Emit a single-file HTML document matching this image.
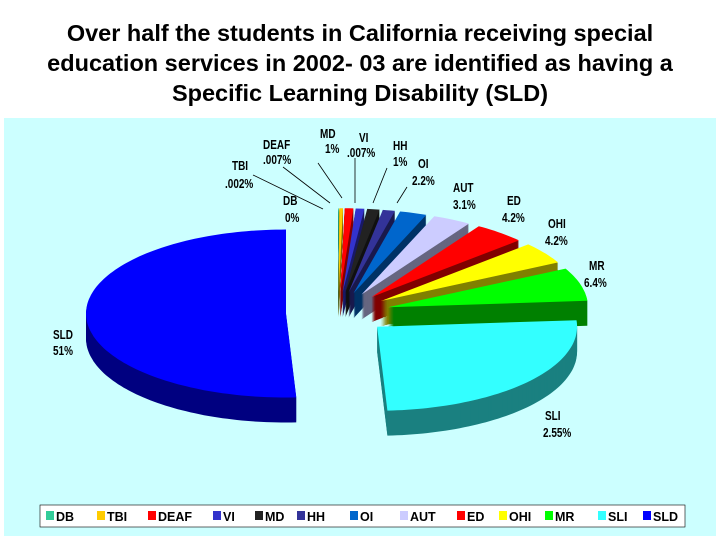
<!DOCTYPE html>
<html><head><meta charset="utf-8">
<style>
body{margin:0;width:720px;height:540px;background:#fff;overflow:hidden;font-family:"Liberation Sans",sans-serif}
#title{position:absolute;left:0;top:18px;width:720px;text-align:center;font-weight:bold;font-size:23.5px;line-height:30px;color:#000}
svg{position:absolute;left:0;top:0}
</style></head><body>
<svg id="chart" width="720" height="540">
<rect x="4" y="118" width="712" height="418" fill="#ccffff"/>
<g id="slices"></g>
<g id="labels"></g>
<g id="legend"></g>
</svg>
<div id="title">Over half the students in California receiving special<br>education services in 2002- 03 are identified as having a<br>Specific Learning Disability (SLD)</div>
<script>
const categories=["DB","TBI","DEAF","VI","MD","HH","OI","AUT","ED","OHI","MR","SLI","SLD"];
const values=[0.05,0.3,0.7,0.7,1,1,2.2,3.1,4.2,4.2,6.4,25.5,51];
const valueLabels=["0%",".002%",".007%",".007%","1%","1%","2.2%","3.1%","4.2%","4.2%","6.4%","2.55%","51%"];
const colors=["#33cc99","#ffcc00","#ff0000","#3333cc","#222222","#333399","#0066cc","#ccccff","#ff0000","#ffff00","#00ff00","#33ffff","#0000ff"];
const NS="http://www.w3.org/2000/svg";
const cx=338,cy=313,rx=200,ry=84,depth=25,explode=52,ky=0.4;
const total=values.reduce((a,b)=>a+b,0);
function pt(x0,y0,t){return [x0+rx*Math.sin(t),y0-ry*Math.cos(t)];}
function dark(c){const n=parseInt(c.slice(1),16);const r=(n>>16)&255,g=(n>>8)&255,b=n&255;return "rgb("+Math.round(r*0.5)+","+Math.round(g*0.5)+","+Math.round(b*0.5)+")";}
const sl=[];let acc=0;
values.forEach((v,i)=>{const a0=acc/total*2*Math.PI;acc+=v;const a1=acc/total*2*Math.PI;sl.push({i,a0,a1,mid:(a0+a1)/2});});
sl.sort((a,b)=>Math.cos(b.mid)-Math.cos(a.mid));
const gs=document.getElementById('slices');
sl.forEach(s=>{
  const ox=cx+explode*Math.sin(s.mid),oy=cy-explode*ky*Math.cos(s.mid);
  function path(dy){let p=[[ox,oy+dy]];const n=Math.max(2,Math.ceil((s.a1-s.a0)*40));for(let k=0;k<=n;k++){const t=s.a0+(s.a1-s.a0)*k/n;p.push(pt(ox,oy+dy,t));}return p.map(q=>q[0].toFixed(1)+","+q[1].toFixed(1)).join(" ");}
  const g=document.createElementNS(NS,'g');
  
  
  for(let d=depth;d>=1;d--){const pg=document.createElementNS(NS,'polygon');pg.setAttribute('points',path(d));pg.setAttribute('fill',dark(colors[s.i]));g.appendChild(pg);}
  const top=document.createElementNS(NS,'polygon');top.setAttribute('points',path(0));top.setAttribute('fill',colors[s.i]);g.appendChild(top);
  gs.appendChild(g);
});
// labels: [nameX, nameY, valueX, valueY]
const labelPos=[[283,205,285,222],[232,170,225,188],[263,149,263,164],[359,142,347,157],[320,138,325,153],[393,150,393,166],[418,168,412,185],[453,192,453,209],[507,205,502,222],[548,228,545,245],[589,270,584,287],[545,420,543,437],[53,339,53,355]];
const leaders=[null,[253,175,323,209],[283,167,330,203],[355,158,355,203],[318,163,342,198],[387,168,373,203],[407,187,397,203]];
const gl=document.getElementById('labels');
function addText(x,y,str,name){
  const t=document.createElementNS(NS,'text');
  t.setAttribute('transform','translate('+x+','+y+') scale(0.8,1)');
  t.setAttribute('font-size','12.5');t.setAttribute('font-weight','bold');
  t.setAttribute('font-family','"Liberation Sans",sans-serif');
  
  
  t.textContent=str;gl.appendChild(t);
}
categories.forEach((c,i)=>{
  const P=labelPos[i];
  addText(P[0],P[1],c,'label-'+c.toLowerCase());
  addText(P[2],P[3],valueLabels[i],'value-label-'+c.toLowerCase());
  const L=leaders[i];
  if(L){const l=document.createElementNS(NS,'line');l.setAttribute('x1',L[0]);l.setAttribute('y1',L[1]);l.setAttribute('x2',L[2]);l.setAttribute('y2',L[3]);l.setAttribute('stroke','#000');l.setAttribute('stroke-width','0.8');
  
  
  gl.appendChild(l);}
});
// legend
const lg=document.getElementById('legend');
const box=document.createElementNS(NS,'rect');
box.setAttribute('x','40');box.setAttribute('y','505');box.setAttribute('width','645');box.setAttribute('height','22');box.setAttribute('fill','#fff');box.setAttribute('stroke','#000');box.setAttribute('stroke-width','0.6');


lg.appendChild(box);
const legX=[46,97,148,213,255,297,350,400,457,499,545,598,643];
categories.forEach((c,i)=>{
  const g=document.createElementNS(NS,'g');
  
  
  const r=document.createElementNS(NS,'rect');r.setAttribute('x',legX[i]);r.setAttribute('y','511');r.setAttribute('width','8');r.setAttribute('height','9');r.setAttribute('fill',colors[i]);
  const t=document.createElementNS(NS,'text');t.setAttribute('x',legX[i]+10);t.setAttribute('y','521');t.setAttribute('font-size','12.5');t.setAttribute('font-weight','bold');t.setAttribute('font-family','"Liberation Sans",sans-serif');t.textContent=c;
  g.appendChild(r);g.appendChild(t);lg.appendChild(g);
});
</script>
</body></html>
